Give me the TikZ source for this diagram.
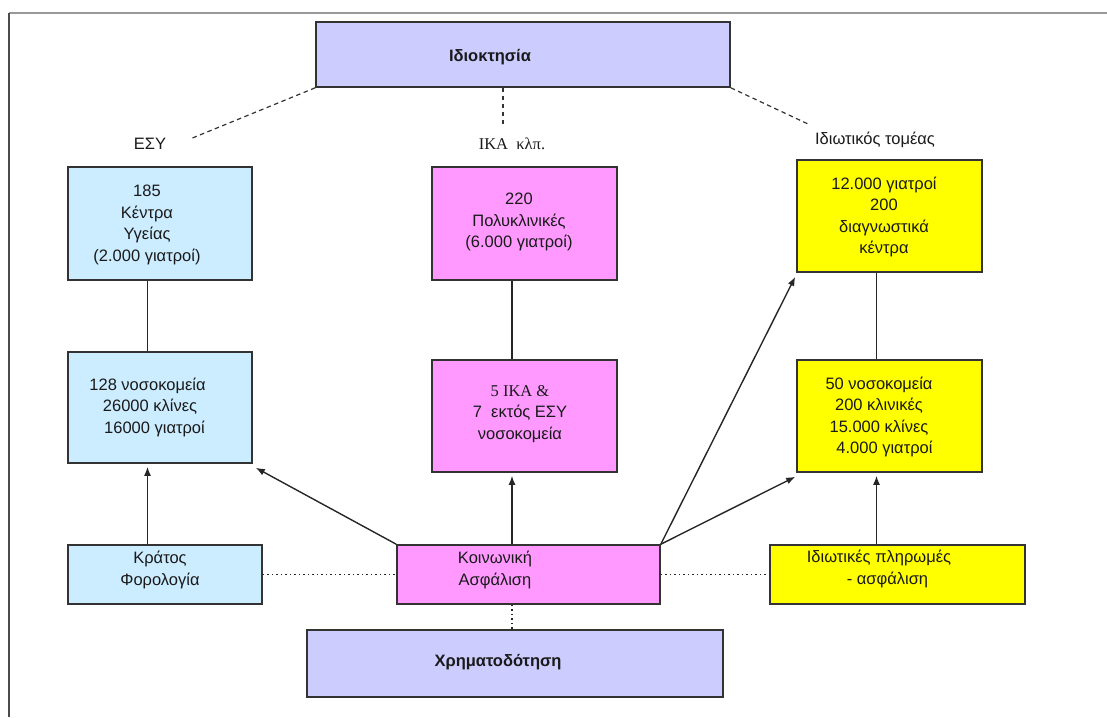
\documentclass[tikz,border=0pt]{standalone}
\usepackage{fontspec}
\setmainfont{Liberation Sans}
\newfontfamily\serifgr{Liberation Serif}
\usetikzlibrary{arrows.meta}
\definecolor{lav}{HTML}{CCCCFF}
\definecolor{lblue}{HTML}{CCECFF}
\definecolor{pink}{HTML}{FF99FF}
\definecolor{yel}{HTML}{FFFF00}
\definecolor{edge}{HTML}{333333}
\definecolor{txtc}{HTML}{1A1A1A}
\tikzset{
  box/.style={draw=edge, line width=1.6pt, rectangle, inner sep=0pt},
  txt/.style={align=center, font=\fontsize{16.5}{21.5}\selectfont, text=txtc, inner sep=0pt},
  con/.style={draw=black!85, line width=1.4pt},
  arr/.style={con, -{Latex[length=9pt,width=7pt]}},
  dashl/.style={draw=black!80, line width=1.2pt, dash pattern=on 4.5pt off 3.5pt},
  dotl/.style={draw=black!85, line width=1.4pt, dash pattern=on 1.5pt off 3pt},
}
\begin{document}
\begin{tikzpicture}[x=1pt,y=-1pt]
\useasboundingbox (0,0) rectangle (1107,717);
% frame
\draw[draw=black!40, line width=1.5pt] (9,13) -- (1107,13);
\draw[draw=black!70, line width=1.5pt] (9,13) -- (9,717);

% boxes
\node[box, fill=lav, minimum width=414pt, minimum height=65pt] (own) at (523,54.5) {};
\node[box, fill=lblue, minimum width=184pt, minimum height=113pt] (esy1) at (160,223.5) {};
\node[box, fill=lblue, minimum width=184pt, minimum height=111pt] (esy2) at (160,407.5) {};
\node[box, fill=lblue, minimum width=194pt, minimum height=59pt] (kratos) at (165,574.5) {};
\node[box, fill=pink, minimum width=185pt, minimum height=113pt] (ika1) at (524.5,223.5) {};
\node[box, fill=pink, minimum width=185pt, minimum height=112pt] (ika2) at (524.5,416) {};
\node[box, fill=pink, minimum width=263pt, minimum height=59pt] (koin) at (528.5,574.5) {};
\node[box, fill=lav, minimum width=416pt, minimum height=67pt] (xrim) at (515,663.5) {};
\node[box, fill=yel, minimum width=185pt, minimum height=112pt] (pr1) at (889.5,216) {};
\node[box, fill=yel, minimum width=185pt, minimum height=112pt] (pr2) at (889.5,416) {};
\node[box, fill=yel, minimum width=255pt, minimum height=59pt] (pr3) at (897.5,574.5) {};

% texts
\node[txt, font=\fontsize{16.5}{21.5}\selectfont\bfseries] (ownt) at (490,57) {Ιδιοκτησία};
\node[txt, font=\fontsize{16.5}{21.5}\selectfont\bfseries] (xrimt) at (498,662) {Χρηματοδότηση};
\node[txt] (esyl) at (150,144) {ΕΣΥ};
\node[txt, font=\fontsize{16.5}{21.5}\serifgr] (ikal) at (512,144) {ΙΚΑ\enspace κλπ.};
\node[txt] (prl) at (875,140) {Ιδιωτικός τομέας};
\node[txt] (esy1t) at (147,225) {185\\Κέντρα\\Υγείας\\(2.000 γιατροί)};
\node[txt] (esy2t) at (147.5,407) {128 νοσοκομεία\\\hspace*{5pt}26000 κλίνες\\\hspace*{14pt}16000 γιατροί};
\node[txt] (kratost) at (160,570) {Κράτος\\Φορολογία};
\node[txt] (ika1t) at (519,222) {220\\Πολυκλινικές\\(6.000 γιατροί)};
\node[txt] (ika2t) at (520,414) {{\serifgr 5 ΙΚΑ \&}\\7\ \ εκτός ΕΣΥ\\νοσοκομεία};
\node[txt] (koint) at (495,570) {Κοινωνική\\Ασφάλιση};
\node[txt] (pr1t) at (884,217) {12.000 γιατροί\\200\\διαγνωστικά\hspace*{9pt}\\κέντρα};
\node[txt] (pr2t) at (879,417) {50 νοσοκομεία\\200 κλινικές\\15.000 κλίνες\\\hspace*{11pt}4.000 γιατροί};
\node[txt] (pr3t) at (879,569) {Ιδιωτικές πληρωμές\\\hspace*{17pt}- ασφάλιση};

% coordinates for free ends of dashed lines
\coordinate (esyend) at (190,139);
\coordinate (ikaend) at (503,124);
\coordinate (prend) at (808,124);

% dashed ownership lines
\draw[dashl] (own.south west) -- (esyend);
\draw[dashl] (own.south -| ikaend) -- (ikaend);
\draw[dashl] (own.south east) -- (prend);

% solid connectors
\draw[con] (esy1.south -| 147.5,0) -- (esy2.north -| 147.5,0);
\draw[con] (ika1.south -| 512,0) -- (ika2.north -| 512,0);
\draw[con] (pr1.south -| 876.5,0) -- (pr2.north -| 876.5,0);

% arrows
\draw[arr, shorten >=3pt] (kratos.north -| 147.5,0) -- (esy2.south -| 147.5,0);
\draw[arr, shorten >=3pt] (koin.north -| 512,0) -- (ika2.south -| 512,0);
\draw[arr] (koin.north west) -- ([xshift=3pt,yshift=-4pt]esy2.south east);
\draw[arr] (koin.north east) -- ([xshift=-1pt,yshift=-4pt]pr1.south west);
\draw[arr] (koin.north east) -- ([xshift=-1pt,yshift=-4pt]pr2.south west);
\draw[arr, shorten >=3pt] (pr3.north -| 876.5,0) -- (pr2.south -| 876.5,0);

% dotted
\draw[dotl] (kratos.east) -- (koin.west);
\draw[dotl] (koin.east) -- (pr3.west);
\draw[dotl] (koin.south -| 512,0) -- (xrim.north -| 512,0);
\end{tikzpicture}
\end{document}
